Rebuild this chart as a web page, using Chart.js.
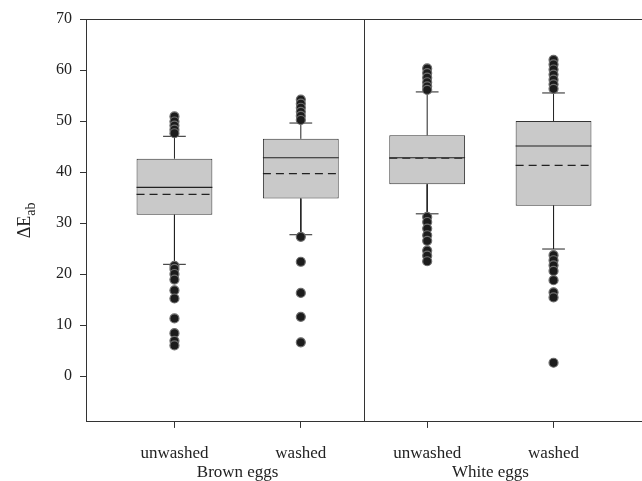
<!DOCTYPE html>
<html>
<head>
<meta charset="utf-8">
<script src="https://cdn.jsdelivr.net/npm/chart.js@4.4.0/dist/chart.umd.min.js"></script>
<style>
  html, body { margin: 0; padding: 0; background: #fff; overflow: hidden; }
  #wrap { width: 642px; height: 481px; }
  canvas { display: block; }
</style>
</head>
<body>
<div id="wrap"><canvas id="myChart" width="642" height="481"></canvas></div>
<script>
// box plot values (Delta E_ab)
var groups = ['unwashed', 'washed', 'unwashed', 'washed'];
var eggTypes = ['Brown eggs', 'White eggs'];
var yTicks = [0, 10, 20, 30, 40, 50, 60, 70];

var q1 = [31.6, 34.8, 37.6, 33.4];
var q3 = [42.6, 46.5, 47.2, 50.0];
var medians = [37.0, 42.8, 42.8, 45.1];
var means = [35.6, 39.7, 42.7, 41.3];
var whiskerLow = [21.9, 27.7, 31.8, 24.9];
var whiskerHigh = [47.0, 49.6, 55.7, 55.5];

var outliersBrownUnwashed = [50.9, 49.9, 49.1, 48.3, 47.6, 21.6, 21.0, 20.0, 18.9, 16.8, 15.2, 11.3, 8.4, 6.9, 6.0];
var outliersBrownWashed = [54.2, 53.4, 52.6, 51.8, 51.0, 50.2, 27.3, 22.4, 16.3, 11.6, 6.6];
var outliersWhiteUnwashed = [60.3, 59.4, 58.5, 57.6, 56.8, 56.1, 31.2, 30.2, 28.9, 27.6, 26.5, 24.6, 23.6, 22.5];
var outliersWhiteWashed = [62.0, 61.1, 60.1, 59.1, 58.1, 57.2, 56.3, 23.7, 22.7, 21.7, 20.6, 18.8, 16.4, 15.4, 2.6];
var outliers = [outliersBrownUnwashed, outliersBrownWashed, outliersWhiteUnwashed, outliersWhiteWashed];

var FONT = "'Liberation Serif', 'DejaVu Serif', serif";
var INK = '#222';
var BOX_HALF = 0.3;
var CAP_HALF = 0.09;

// build the dataset points from the arrays above
var boxData = [];
var whiskerPts = [];
var medianPts = [];
var meanPts = [];
var outlierPts = [];
for (var i = 0; i < groups.length; i++) {
    var x = i + 1;
    boxData.push({x: x, y: [q1[i], q3[i]]});

    whiskerPts.push({x: x, y: q3[i]}, {x: x, y: whiskerHigh[i]}, {x: x, y: null});
    whiskerPts.push({x: x - CAP_HALF, y: whiskerHigh[i]}, {x: x + CAP_HALF, y: whiskerHigh[i]}, {x: x, y: null});
    whiskerPts.push({x: x, y: q1[i]}, {x: x, y: whiskerLow[i]}, {x: x, y: null});
    whiskerPts.push({x: x - CAP_HALF, y: whiskerLow[i]}, {x: x + CAP_HALF, y: whiskerLow[i]}, {x: x, y: null});

    medianPts.push({x: x - BOX_HALF, y: medians[i]}, {x: x + BOX_HALF, y: medians[i]}, {x: x, y: null});
    meanPts.push({x: x - BOX_HALF, y: means[i]}, {x: x + BOX_HALF, y: means[i]}, {x: x, y: null});

    for (var j = 0; j < outliers[i].length; j++) {
        outlierPts.push({x: x, y: outliers[i][j]});
    }
}

// x ticks: one per box, plus a label-only tick in the middle of each egg type
var xTicks = [];
var xLabels = {};
groups.forEach(function(g, k) {
    xTicks.push(k + 1);
    xLabels[k + 1] = g;
});
eggTypes.forEach(function(t, m) {
    var v = 1.5 + 2 * m;
    xTicks.push(v);
    xLabels[v] = ['', t];
});
xTicks.sort(function(a, b) { return a - b; });

// frame (top line + divider between egg types) and the y axis title with subscript
var framePlugin = {
    id: 'frame',
    afterDatasetsDraw: function(chart) {
        var ctx = chart.ctx;
        var a = chart.chartArea;
        var xs = chart.scales.x;
        ctx.save();
        ctx.strokeStyle = '#333';
        ctx.lineWidth = 1;
        ctx.beginPath();
        ctx.moveTo(a.left, a.top + 0.5);
        ctx.lineTo(chart.width, a.top + 0.5);
        var xd = Math.round(xs.getPixelForValue(2.5)) + 0.5;
        ctx.moveTo(xd, a.top);
        ctx.lineTo(xd, a.bottom);
        ctx.stroke();
        ctx.restore();
    },
    afterDraw: function(chart) {
        var ctx = chart.ctx;
        var a = chart.chartArea;
        ctx.save();
        ctx.translate(25, (a.top + a.bottom) / 2);
        ctx.rotate(-Math.PI / 2);
        ctx.fillStyle = INK;
        ctx.textBaseline = 'middle';
        ctx.font = '18px ' + FONT;
        var main = '\u0394E';
        var wMain = ctx.measureText(main).width;
        ctx.font = '14px ' + FONT;
        var wSub = ctx.measureText('ab').width;
        var start = -(wMain + wSub) / 2;
        ctx.font = '18px ' + FONT;
        ctx.textAlign = 'left';
        ctx.fillText(main, start, 0);
        ctx.font = '14px ' + FONT;
        ctx.fillText('ab', start + wMain, 6);
        ctx.restore();
    }
};

var ctx = document.getElementById('myChart').getContext('2d');
var myChart = new Chart(ctx, {
    data: {
        datasets: [
            {
                type: 'scatter',
                label: 'outliers',
                data: outlierPts,
                pointRadius: 4.5,
                backgroundColor: '#1c1c1c',
                borderColor: '#6e6e6e',
                borderWidth: 1.2,
                order: 1
            },
            {
                type: 'line',
                label: 'whiskers',
                data: whiskerPts,
                borderColor: INK,
                borderWidth: 1,
                pointRadius: 0,
                spanGaps: false,
                fill: false,
                order: 2
            },
            {
                type: 'line',
                label: 'median',
                data: medianPts,
                borderColor: INK,
                borderWidth: 1.2,
                pointRadius: 0,
                spanGaps: false,
                fill: false,
                order: 2
            },
            {
                type: 'line',
                label: 'mean',
                data: meanPts,
                borderColor: INK,
                borderWidth: 1.2,
                borderDash: [8, 5],
                pointRadius: 0,
                spanGaps: false,
                fill: false,
                order: 2
            },
            {
                type: 'bar',
                label: 'box',
                data: boxData,
                backgroundColor: '#c9c9c9',
                borderColor: '#333',
                borderWidth: 1,
                borderSkipped: false,
                // tick spacing is half a unit (label-only ticks), so 1.2 gives a 0.6 unit box
                barPercentage: 1.2,
                categoryPercentage: 1.0,
                order: 3
            }
        ]
    },
    options: {
        responsive: false,
        animation: false,
        layout: {
            autoPadding: false,
            padding: {left: 48, top: 19, right: 0, bottom: -17}
        },
        plugins: {
            legend: {display: false},
            tooltip: {enabled: false}
        },
        scales: {
            x: {
                type: 'linear',
                position: 'bottom',
                offset: false,
                min: 0.3,
                max: 4.7,
                afterBuildTicks: function(scale) {
                    scale.ticks = xTicks.map(function(v) { return {value: v}; });
                },
                // plot frame runs to the right edge of the picture
                afterFit: function(scale) {
                    scale.paddingRight = 0;
                },
                ticks: {
                    autoSkip: false,
                    maxRotation: 0,
                    padding: 16,
                    color: INK,
                    font: {family: FONT, size: 17, lineHeight: 1.12},
                    callback: function(v) { return xLabels[v]; }
                },
                grid: {
                    offset: false,
                    drawOnChartArea: false,
                    drawTicks: true,
                    tickLength: 6,
                    tickColor: function(c) {
                        return (c.tick && c.tick.value % 1 === 0) ? '#333' : 'rgba(0,0,0,0)';
                    }
                },
                border: {display: true, color: '#333', width: 1}
            },
            y: {
                type: 'linear',
                position: 'left',
                min: -9,
                max: 70,
                afterBuildTicks: function(scale) {
                    scale.ticks = yTicks.map(function(v) { return {value: v}; });
                },
                afterFit: function(scale) {
                    scale.paddingRight = 0;
                },
                ticks: {
                    padding: 8,
                    color: INK,
                    font: {family: FONT, size: 16}
                },
                grid: {drawOnChartArea: false, drawTicks: true, tickLength: 6, color: '#333'},
                border: {display: true, color: '#333', width: 1}
            }
        }
    },
    plugins: [framePlugin]
});
</script>
</body>
</html>
